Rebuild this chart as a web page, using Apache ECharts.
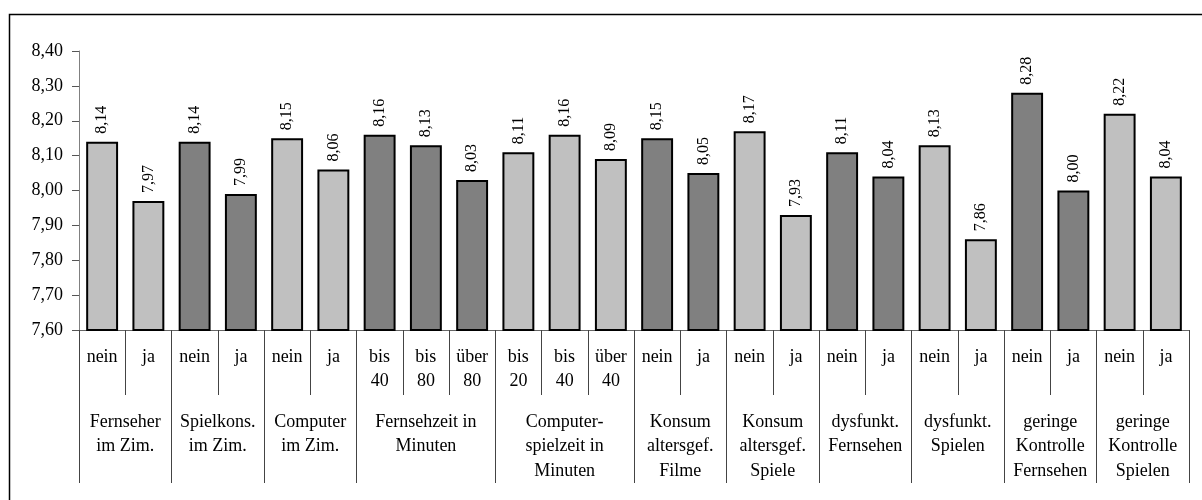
<!DOCTYPE html>
<html>
<head>
<meta charset="utf-8">
<script src="https://cdn.jsdelivr.net/npm/echarts@6/dist/echarts.min.js"></script>
<style>html,body{margin:0;padding:0;background:#fff}#c{width:1202px;height:500px}</style>
</head>
<body>
<div id="c"></div>
<script>
const groups = ["Fernseher\nim Zim.", "Spielkons.\nim Zim.", "Computer\nim Zim.", "Fernsehzeit in\nMinuten", "Computer-\nspielzeit in\nMinuten", "Konsum\naltersgef.\nFilme", "Konsum\naltersgef.\nSpiele", "dysfunkt.\nFernsehen", "dysfunkt.\nSpielen", "geringe\nKontrolle\nFernsehen", "geringe\nKontrolle\nSpielen"];
const subCategories = [
  ["nein", "ja"],
  ["nein", "ja"],
  ["nein", "ja"],
  ["bis\n40", "bis\n80", "über\n80"],
  ["bis\n20", "bis\n40", "über\n40"],
  ["nein", "ja"],
  ["nein", "ja"],
  ["nein", "ja"],
  ["nein", "ja"],
  ["nein", "ja"],
  ["nein", "ja"]
];
const values = [8.14, 7.97, 8.14, 7.99, 8.15, 8.06, 8.16, 8.13, 8.03, 8.11, 8.16, 8.09, 8.15, 8.05, 8.17, 7.93, 8.11, 8.04, 8.13, 7.86, 8.28, 8.00, 8.22, 8.04];
const yTicks = { min: 7.6, max: 8.4, interval: 0.1 };

const FONT = '"Liberation Serif", "Times New Roman", serif';
const LIGHT = '#c0c0c0', DARK = '#808080';

// flatten
const categories = [];
const groupOfCat = [];
subCategories.forEach((s, g) => s.forEach(c => { categories.push(c); groupOfCat.push(g); }));
// half-unit positions for group separators and centers
const boundaries = [0];
const centers = {};
let pos = 0;
subCategories.forEach((s, g) => {
  centers[pos + s.length] = groups[g];
  pos += s.length * 2;
  boundaries.push(pos);
});
const halfUnits = [];
for (let i = 0; i <= categories.length * 2; i++) halfUnits.push(String(i));

const chart = echarts.init(document.getElementById('c'));
chart.setOption({
  animation: false,
  backgroundColor: '#fff',
  graphic: [{
    type: 'rect', left: 7, top: 12,
    shape: { width: 1210, height: 510 },
    style: { fill: 'none', stroke: '#000', lineWidth: 1.5 },
    silent: true
  }],
  grid: { left: 79, right: 13, top: 51, bottom: 170 },
  xAxis: [{
    type: 'category',
    data: categories,
    axisLine: { lineStyle: { color: '#666', width: 1 } },
    axisTick: { show: true, interval: 0, length: 65, lineStyle: { color: '#444' } },
    axisLabel: {
      interval: 0, margin: 15, color: '#000', fontFamily: FONT, fontSize: 18,
      lineHeight: 24, verticalAlign: 'top'
    }
  }, {
    type: 'category',
    position: 'bottom',
    boundaryGap: false,
    data: halfUnits,
    axisLine: { show: false },
    axisTick: {
      show: true, length: 153, lineStyle: { color: '#444' },
      interval: (idx) => boundaries.includes(idx)
    },
    axisLabel: {
      interval: 0, margin: 80, color: '#000', fontFamily: FONT, fontSize: 18,
      lineHeight: 24.5, verticalAlign: 'top',
      formatter: (v, idx) => centers[idx] || ''
    }
  }],
  yAxis: {
    type: 'value',
    min: yTicks.min, max: yTicks.max, interval: yTicks.interval,
    axisLine: { show: true, lineStyle: { color: '#808080' } },
    axisTick: { show: true, length: 7, lineStyle: { color: '#555' } },
    splitLine: { show: false },
    axisLabel: {
      margin: 16, color: '#000', fontFamily: FONT, fontSize: 18,
      formatter: v => v.toFixed(2).replace('.', ',')
    }
  },
  series: [{
    type: 'bar',
    xAxisIndex: 0,
    barWidth: '69%',
    data: values.map((v, i) => ({
      value: v,
      itemStyle: { color: groupOfCat[i] % 2 === 0 ? LIGHT : DARK }
    })),
    itemStyle: { borderColor: '#000', borderWidth: 2 },
    label: {
      show: true, position: 'top', rotate: 90, distance: 8,
      align: 'left', verticalAlign: 'middle',
      color: '#000', fontFamily: FONT, fontSize: 16,
      formatter: p => p.value.toFixed(2).replace('.', ',')
    }
  }]
});
</script>
</body>
</html>
